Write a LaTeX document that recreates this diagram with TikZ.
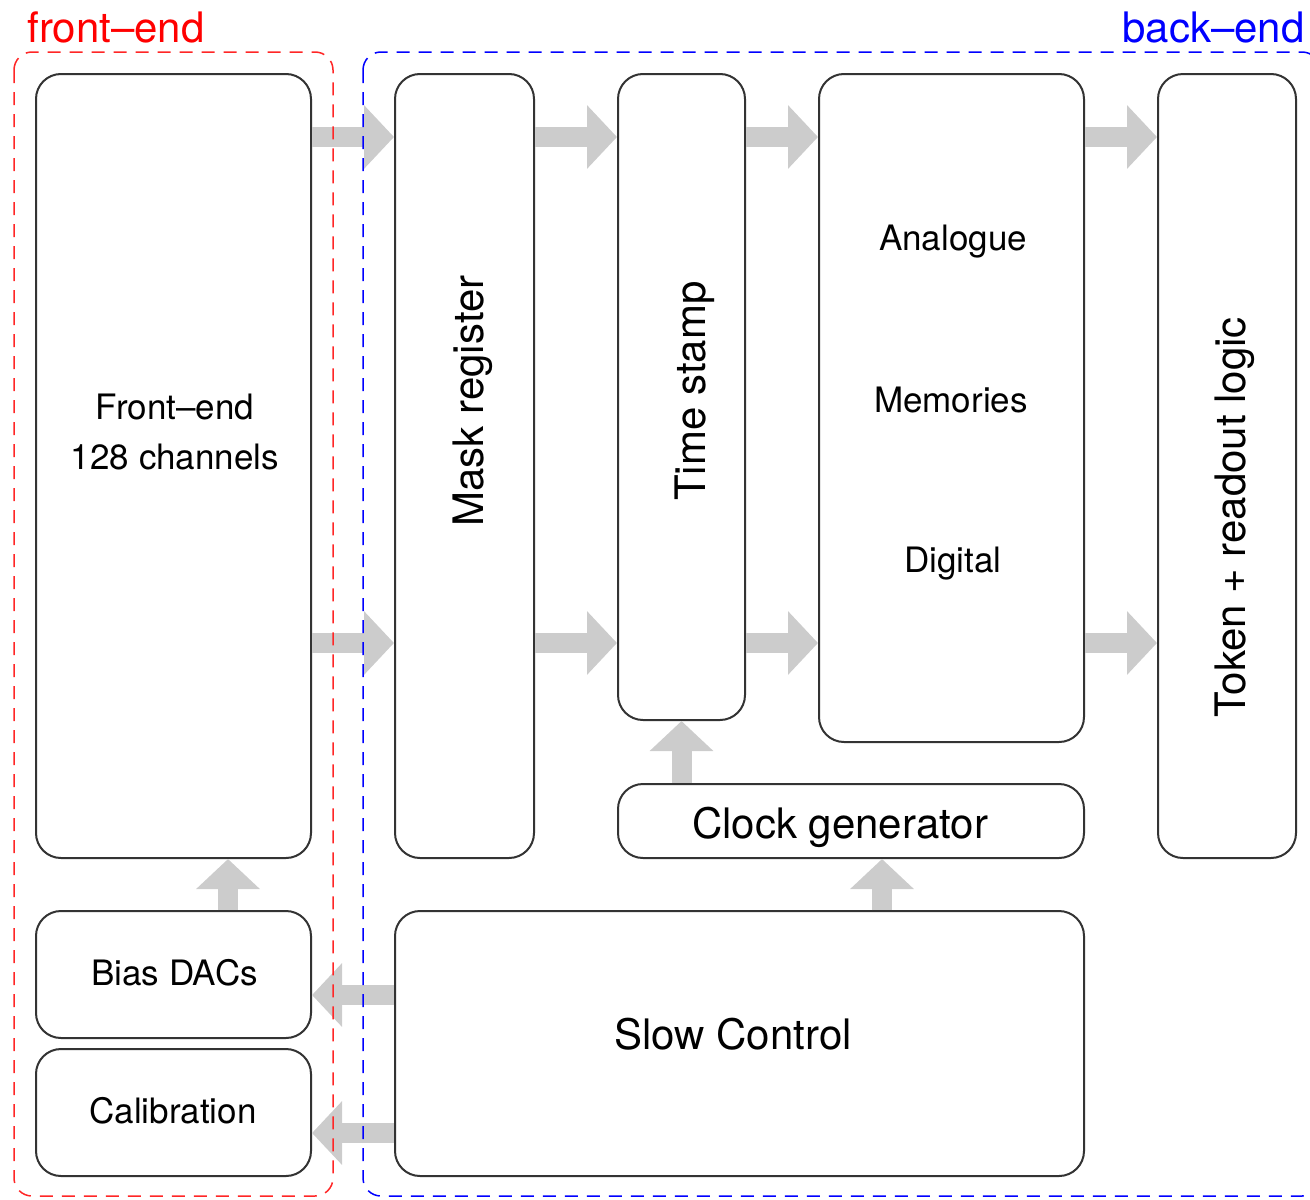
\documentclass[tikz,border=0pt]{standalone}
\usepackage{fontspec}
\setmainfont{TeX Gyre Heros}
\usetikzlibrary{positioning,arrows.meta}
\tikzset{
  block/.style = {draw=black!80, line width=1pt, rounded corners=12.5pt, inner sep=0pt},
  small/.style = {font=\fontsize{17.5}{21}\selectfont},
  large/.style = {font=\fontsize{21}{25}\selectfont},
  flow/.style  = {draw=black!20, line width=10pt, -{Triangle[length=15pt,width=31pt]}},
  part/.style  = {dash pattern=on 6.5pt off 4.5pt, line width=0.75pt, rounded corners=9pt}
}

\begin{document}
\begin{tikzpicture}[x=0.5pt, y=-0.5pt]
\useasboundingbox (0,0) rectangle (1310,1199);

% blocks of the chip
\node[block, minimum width=137.5pt, minimum height=392pt] (fe)   at (173.5,466)  {};
\node[block, minimum width=69.5pt,  minimum height=392pt] (mask) at (464.5,466)  {};
\node[block, minimum width=63.5pt,  minimum height=323pt] (ts)   at (681.5,397)  {};
\node[block, minimum width=132.5pt, minimum height=334pt] (mem)  at (951.5,408)  {};
\node[block, minimum width=69pt,    minimum height=392pt] (tok)  at (1227,466)   {};
\node[block, minimum width=233pt,   minimum height=37pt]  (clk)  at (851,821)    {};
\node[block, minimum width=137.5pt, minimum height=63.5pt] (bias) at (173.5,974.5) {};
\node[block, minimum width=137.5pt, minimum height=63.5pt] (cal)  at (173.5,1112.5) {};
\node[block, minimum width=344.5pt, minimum height=132.5pt] (slow) at (739.5,1043.5) {};

% texts of the blocks
\node[small, anchor=base] (fe1) at (175,419) {Front–end};
\node[small, anchor=base] (fe2) at (175,469) {128 channels};
\node[large, anchor=base, rotate=90] (masktxt) at (483,401) {Mask register};
\node[large, anchor=base, rotate=90] (tstxt) at (705,391) {Time stamp};
\node[small, anchor=base] (mem1) at (953,250) {Analogue};
\node[small, anchor=base] (mem2) at (951,412) {Memories};
\node[small, anchor=base] (mem3) at (953,572) {Digital};
\node[large, anchor=base, rotate=90] (toktxt) at (1245,517) {Token + readout logic};
\node[large, anchor=base] (clktxt) at (840,838) {Clock generator};
\node[small, anchor=base] (biastxt) at (174.5,985) {Bias DACs};
\node[small, anchor=base] (caltxt) at (173,1123) {Calibration};
\node[large, anchor=base] (slowtxt) at (733,1049) {Slow Control};

% rows and columns of the data flow
\coordinate (r1) at (0,137);
\coordinate (r2) at (0,643);
\coordinate (r3) at (0,995);
\coordinate (r4) at (0,1133);
\coordinate (c1) at (228,0);
\coordinate (c2) at (882,0);

\foreach \r in {r1,r2} {
  \draw[flow] (fe.east |- \r)   -- (mask.west |- \r);
  \draw[flow] (mask.east |- \r) -- (ts.west |- \r);
  \draw[flow] (ts.east |- \r)   -- (mem.west |- \r);
  \draw[flow] (mem.east |- \r)  -- (tok.west |- \r);
}
\draw[flow] (c1 |- bias.north) -- (c1 |- fe.south);
\draw[flow] (clk.north -| ts.south) -- (ts.south);
\draw[flow] (c2 |- slow.north) -- (c2 |- clk.south);
\draw[flow] (slow.west |- r3) -- (bias.east |- r3);
\draw[flow] (slow.west |- r4) -- (cal.east |- r4);

% front-end and back-end parts
\draw[part, red!85]  (14,52) rectangle (333,1196);
\draw[part, blue] (363,52) rectangle (1320,1196);
\node[large, red, anchor=base west, inner sep=0pt]  (fetitle) at (27,42)   {front–end};
\node[large, blue, anchor=base east, inner sep=0pt] (betitle) at (1305,42) {back–end};

\end{tikzpicture}
\end{document}
